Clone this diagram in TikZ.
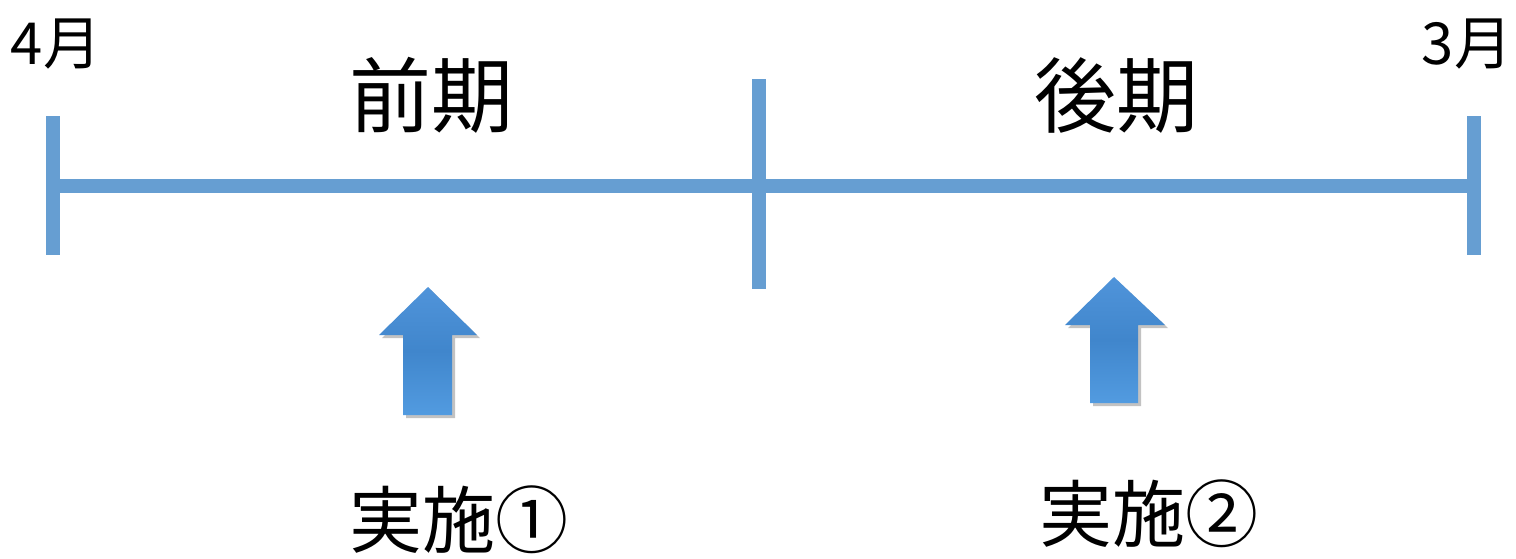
\documentclass[tikz,border=0pt]{standalone}
\usepackage{fontspec}
\setmainfont{Noto Sans CJK JP}
\usetikzlibrary{shadows}
\definecolor{linec}{RGB}{102,158,210}
\definecolor{arrtop}{RGB}{80,148,218}
\definecolor{arrmid}{RGB}{64,134,204}
\definecolor{arrbot}{RGB}{82,155,224}
\tikzset{
  tl/.style={line width=14pt, draw=linec},
  upar/.style={top color=arrtop, bottom color=arrbot, middle color=arrmid, draw=none,
    drop shadow={shadow xshift=3pt, shadow yshift=-3pt, opacity=0.4, fill=black!60}},
  mon/.style={font=\fontsize{58}{58}\selectfont, inner sep=0pt},
  term/.style={font=\fontsize{82}{82}\selectfont, inner sep=0pt},
  act/.style={font=\fontsize{73}{73}\selectfont, inner sep=0pt},
}
\begin{document}
\begin{tikzpicture}[x=1pt,y=-1pt]
\useasboundingbox (0,0) rectangle (1516,558);
\coordinate (L) at (53,186);
\coordinate (R) at (1474,186);
\coordinate (Lt) at (53,116);
\coordinate (Lb) at (53,255);
\coordinate (Mt) at (759,79);
\coordinate (Mb) at (759,289);
\coordinate (Rt) at (1474,116);
\coordinate (Rb) at (1474,255);
\draw[tl] (L) -- (R);
\draw[tl] (Lt) -- (Lb);
\draw[tl] (Mt) -- (Mb);
\draw[tl] (Rt) -- (Rb);
\node[mon] (apr) at (56,44) {4月};
\node[mon] (mar) at (1467,44) {3月};
\node[term] (zen) at (431,95) {前期};
\node[term] (kou) at (1116,95) {後期};
\node[act] (j1) at (459,520) {実施①};
\node[act] (j2) at (1149,514) {実施②};
\path[upar] (428,287) -- (477,335) -- (452,335) -- (452,415) -- (403,415) -- (403,335) -- (379,335) -- cycle;
\path[upar] (1114,277) -- (1165,325) -- (1138,325) -- (1138,403) -- (1090,403) -- (1090,325) -- (1065,325) -- cycle;
\end{tikzpicture}
\end{document}
